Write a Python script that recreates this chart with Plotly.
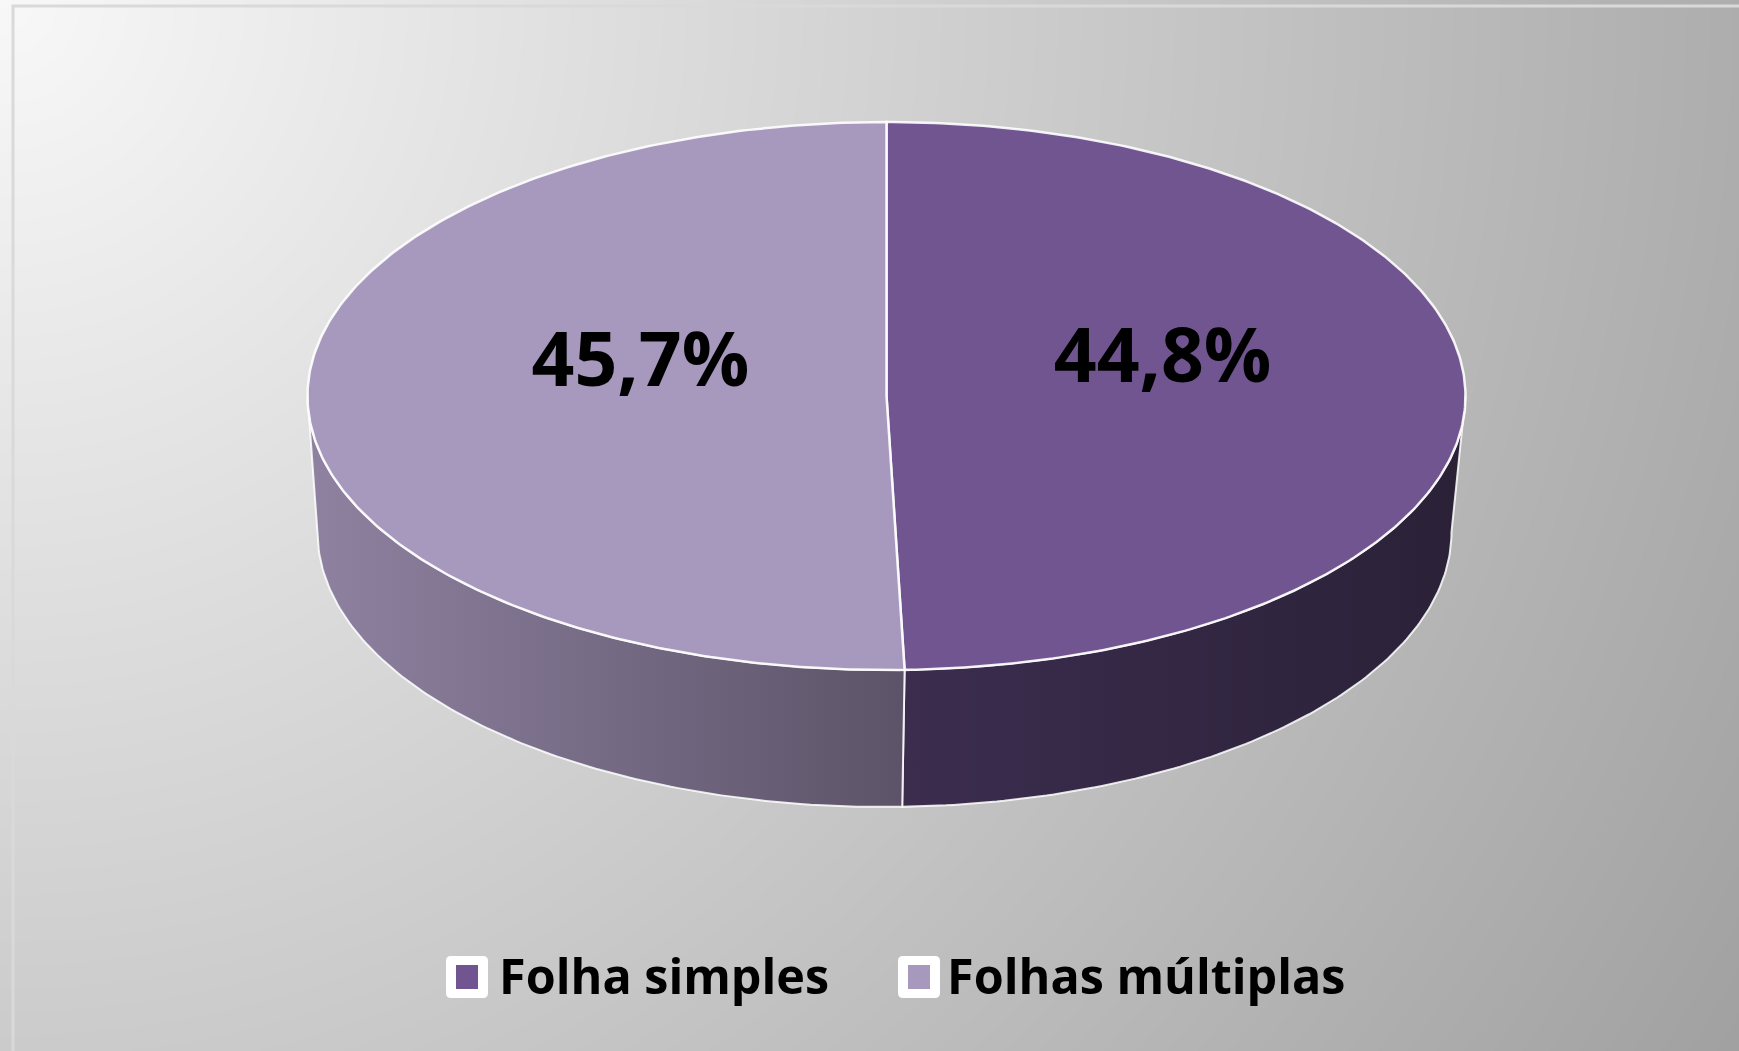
import numpy as np
import plotly.graph_objects as go

# ---- data ----
categories = ["Folha simples", "Folhas múltiplas"]
values = [44.8, 45.7]
top_colors = ["#705590", "#a798bd"]
wall_colors = [["#3c2d4f", "#2a2137"], ["#8f82a1", "#5c5368"]]

# ---- layout constants (pixels of the 1739x1051 canvas) ----
W, H = 1739, 1051
CX, CY, RX, RY = 886.5, 396.0, 579.0, 274.0        # top ellipse
BCX, BCY, BRX, BRY = 884.5, 532.0, 567.0, 275.0    # bottom ellipse (depth)
LABEL_R, LABEL_DX, LABEL_DY = 0.451, 15, -31
LEG_Y = 977
LEG_BOX_X = [467, 919]

def top_pt(t):
    return CX + RX * np.sin(t), CY - RY * np.cos(t)

def bot_pt(t):
    return BCX + BRX * np.sin(t), BCY - BRY * np.cos(t)

fig = go.Figure()

# background gradient (radial from the top-left corner)
gx = np.linspace(0, W, 60)
gy = np.linspace(0, H, 40)
XX, YY = np.meshgrid(gx, gy)
G = np.clip(248 - 0.043 * np.sqrt(XX ** 2 + YY ** 2), 150, 255)
fig.add_trace(go.Heatmap(x=gx, y=gy, z=G, zmin=0, zmax=255, zsmooth="best",
                         colorscale=[[0, "rgb(0,0,0)"], [1, "rgb(255,255,255)"]],
                         showscale=False, hoverinfo="skip"))

# slice angles (clockwise from 12 o'clock)
total = sum(values)
fracs = [v / total for v in values]
starts, ends = [], []
a = 0.0
for f in fracs:
    starts.append(a)
    ends.append(a + f * 2 * np.pi)
    a += f * 2 * np.pi

# side walls (visible front half: pi/2 .. 3pi/2)
for i in range(len(values)):
    s = max(starts[i], np.pi / 2)
    e = min(ends[i], 3 * np.pi / 2)
    if e <= s:
        continue
    t = np.linspace(s, e, 120)
    tx, ty = top_pt(t)
    bx, by = bot_pt(t[::-1])
    xs = np.concatenate([tx, bx, tx[:1]])
    ys = np.concatenate([ty, by, ty[:1]])
    fig.add_trace(go.Scatter(x=xs, y=ys, mode="lines", fill="toself",
                             fillgradient=dict(type="horizontal",
                                               colorscale=[[0, wall_colors[i][0]], [1, wall_colors[i][1]]]),
                             line=dict(color="rgba(255,255,255,0.85)", width=2),
                             showlegend=False, hoverinfo="skip"))

# top faces
for i in range(len(values)):
    t = np.linspace(starts[i], ends[i], 300)
    tx, ty = top_pt(t)
    xs = np.concatenate([[CX], tx, [CX]])
    ys = np.concatenate([[CY], ty, [CY]])
    fig.add_trace(go.Scatter(x=xs, y=ys, mode="lines", fill="toself",
                             fillcolor=top_colors[i],
                             line=dict(color="rgba(255,255,255,0.9)", width=2.5),
                             showlegend=False, hoverinfo="skip"))

# labels
lx, ly, lt = [], [], []
for i, v in enumerate(values):
    m = (starts[i] + ends[i]) / 2
    lx.append(CX + LABEL_R * RX * np.sin(m) + LABEL_DX)
    ly.append(CY - LABEL_R * RY * np.cos(m) + LABEL_DY)
    lt.append(f"{v:.1f}%".replace(".", ","))
fig.add_trace(go.Scatter(x=lx, y=ly, mode="text", text=lt,
                         textfont=dict(family="Open Sans", size=75, color="black", weight=700),
                         showlegend=False, hoverinfo="skip"))

# legend entries (symbols drawn as boxes below)
for i, c in enumerate(categories):
    fig.add_trace(go.Scatter(x=[None], y=[None], mode="markers", name=c,
                             marker=dict(symbol="square", size=16, color="rgba(0,0,0,0)")))

def rounded_box(xc, yc, half, r):
    x0, x1, y0, y1 = xc - half, xc + half, yc - half, yc + half
    return (f"M{x0 + r},{y0} L{x1 - r},{y0} Q{x1},{y0} {x1},{y0 + r} "
            f"L{x1},{y1 - r} Q{x1},{y1} {x1 - r},{y1} L{x0 + r},{y1} "
            f"Q{x0},{y1} {x0},{y1 - r} L{x0},{y0 + r} Q{x0},{y0} {x0 + r},{y0} Z")

for i, bx in enumerate(LEG_BOX_X):
    fig.add_shape(type="path", xref="x", yref="y", path=rounded_box(bx, LEG_Y, 21, 5),
                  fillcolor="white", line=dict(width=0), layer="above")
    fig.add_shape(type="rect", xref="x", yref="y", x0=bx - 11, x1=bx + 11,
                  y0=LEG_Y - 12, y1=LEG_Y + 12,
                  fillcolor=top_colors[i], line=dict(width=0), layer="above")

# chart-area frame
fig.add_shape(type="rect", xref="x", yref="y", x0=13, y0=6, x1=W + 20, y1=H + 20,
              line=dict(color="#d9d9d9", width=3), fillcolor="rgba(0,0,0,0)", layer="above")

fig.update_layout(
    width=W, height=H,
    margin=dict(l=0, r=0, t=0, b=0),
    paper_bgcolor="#d0d0d0", plot_bgcolor="rgba(0,0,0,0)",
    xaxis=dict(range=[0, W], visible=False, fixedrange=True),
    yaxis=dict(range=[H, 0], visible=False, fixedrange=True),
    showlegend=True,
    legend=dict(orientation="h", x=0.5216, xanchor="center", y=0.0714, yanchor="middle",
                font=dict(family="Open Sans", size=48.5, color="black", weight=700),
                bgcolor="rgba(0,0,0,0)", itemsizing="trace", entrywidth=403),
)

fig.write_html("out.html", config={"displayModeBar": False},
               post_script="document.body.style.margin='0';document.body.style.overflow='hidden';")
